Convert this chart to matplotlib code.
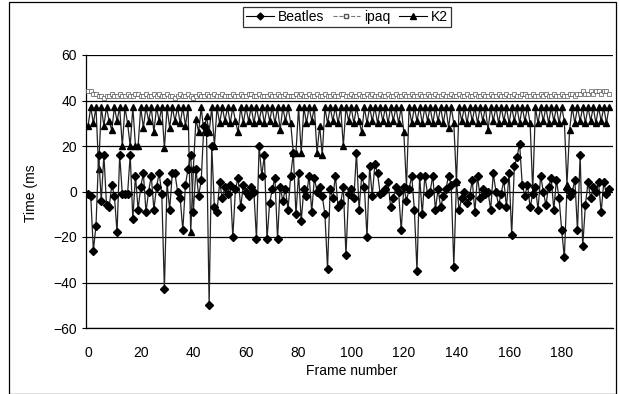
import matplotlib
matplotlib.use("Agg")
import matplotlib.pyplot as plt
from matplotlib.lines import Line2D

plt.rcParams['font.family'] = ['Liberation Sans', 'DejaVu Sans']

beatles = [-1, -2, -26, -15, 16, -4, 16, -6, -7, 3,
           -2, -18, 16, -1, -1, -1, 16, -12, 7, -8,
           2, 8, -9, 0, 7, -8, 2, 8, -1, -43,
           4, -8, 8, 8, 0, -3, -17, 3, 10, 16,
           -9, 10, -2, 5, 29, 26, -50, 20, -7, -9,
           4, -3, 2, -1, 3, -20, 1, 6, -7, 3,
           0, -2, 2, 0, -21, 20, 7, 16, -21, -5,
           1, 6, -21, 2, -4, 1, -8, 7, 17, -10,
           8, -13, 1, -2, 7, -9, 6, 0, 2, -2,
           -10, -34, 1, -3, 7, -7, -5, 2, -28, -1,
           1, -3, 17, -8, 7, 2, -20, 11, -2, 12,
           8, -1, 0, 1, 4, -7, -3, 2, 0, -17,
           2, -4, 1, 7, -8, -35, 7, -10, 7, -1,
           0, 7, -8, 1, -7, -2, 1, 7, 3, -33,
           4, -8, -3, 0, -5, -2, 5, -9, 7, -3,
           1, -1, 0, -8, 8, 0, -6, -1, 5, -7,
           8, -19, 11, 15, 21, 3, -2, 3, -7, -1,
           2, -8, 7, 0, -6, 2, 6, -8, 5, -3,
           -17, -29, 1, -2, 0, 5, -17, 16, -24, -6,
           4, -3, 2, 0, 4, -9, 4, -1, 1]

ipaq = [44, 44, 43, 43, 42, 42, 41, 42, 42, 43,
        42, 42, 43, 42, 42, 43, 42, 42, 43, 43,
        42, 42, 43, 42, 42, 43, 42, 43, 42, 42,
        43, 42, 42, 41, 42, 43, 42, 42, 43, 42,
        41, 42, 43, 42, 42, 43, 42, 42, 43, 42,
        42, 43, 42, 42, 42, 43, 42, 42, 43, 42,
        42, 43, 43, 42, 42, 43, 42, 42, 42, 43,
        42, 42, 43, 42, 42, 43, 42, 42, 42, 43,
        42, 43, 42, 42, 43, 42, 42, 43, 42, 42,
        43, 42, 42, 43, 42, 42, 43, 43, 42, 42,
        43, 42, 42, 43, 42, 42, 43, 42, 43, 42,
        42, 43, 42, 42, 43, 42, 42, 43, 42, 42,
        43, 42, 42, 43, 42, 42, 43, 42, 42, 43,
        42, 42, 43, 42, 42, 43, 42, 42, 43, 42,
        42, 43, 42, 42, 43, 42, 42, 43, 42, 42,
        43, 42, 42, 43, 42, 42, 43, 42, 42, 43,
        42, 42, 43, 42, 42, 43, 43, 42, 42, 43,
        42, 42, 43, 42, 43, 42, 42, 43, 42, 42,
        43, 42, 42, 43, 43, 42, 43, 43, 44, 43,
        43, 44, 43, 44, 44, 43, 44, 44, 43]

k2 = [29, 37, 30, 37, 10, 37, 29, 37, 31, 27,
      37, 31, 37, 20, 37, 30, 20, 37, 20, 20,
      37, 28, 37, 31, 37, 26, 37, 31, 37, 19,
      37, 28, 37, 31, 37, 30, 37, 29, 37, -18,
      10, 32, 26, 37, 26, 33, 26, 37, 20, 37,
      30, 37, 31, 37, 30, 37, 31, 26, 37, 30,
      37, 31, 37, 30, 37, 31, 37, 30, 37, 31,
      37, 30, 37, 27, 37, 31, 37, 30, 17, 17,
      37, 17, 37, 30, 37, 31, 37, 17, 29, 16,
      37, 30, 37, 31, 37, 30, 37, 20, 37, 31,
      37, 30, 37, 31, 26, 37, 30, 37, 31, 37,
      30, 37, 31, 37, 30, 37, 31, 37, 30, 37,
      26, 2, 37, 30, 37, 31, 37, 30, 37, 31,
      37, 30, 37, 31, 37, 30, 37, 28, 37, 30,
      4, 37, 31, 37, 30, 37, 31, 37, 30, 37,
      31, 37, 27, 37, 31, 37, 30, 37, 31, 37,
      30, 37, 31, 37, 30, 37, 31, 37, 30, 0,
      37, 30, 37, 31, 37, 30, 37, 31, 37, 30,
      37, 31, 3, 27, 37, 30, 37, 31, 37, 30,
      37, 31, 37, 30, 37, 31, 37, 30, 37]

frames = list(range(len(beatles)))
x_ticks = [0, 20, 40, 60, 80, 100, 120, 140, 160, 180]
y_ticks = [-60, -40, -20, 0, 20, 40, 60]

fig = plt.figure(figsize=(6.19, 3.94), dpi=100)
W, H = 619, 394
ax = fig.add_axes([86 / W, 1 - 328 / H, (613 - 86) / W, (328 - 55) / H])

ax.plot(frames, ipaq, color='#666666', lw=0.8, marker='s', ms=2.5,
        mfc='white', mec='#555555', mew=0.5, zorder=3)
ax.plot(frames, k2, color='#222222', lw=0.9, marker='^', ms=4.5,
        mfc='black', mec='black', zorder=4)
ax.plot(frames, beatles, color='#222222', lw=0.9, marker='D', ms=3.8,
        mfc='black', mec='black', zorder=5)

ax.set_xlim(-0.8, 199.5)
ax.set_ylim(-60, 60)
ax.set_xticks(x_ticks)
ax.set_yticks(y_ticks)
ax.tick_params(axis='both', labelsize=10, length=3, width=0.8, color='black')
ax.tick_params(axis='x', length=0, pad=13)
ax.set_yticklabels([str(v).replace('-', '\u2212') for v in y_ticks])
for v in y_ticks:
    ax.axhline(v, color='black', lw=0.9, zorder=1)
ax.spines['top'].set_visible(False)
ax.spines['right'].set_visible(False)
ax.spines['left'].set_linewidth(0.9)
ax.spines['bottom'].set_linewidth(0.9)

fig.text(352 / W, 1 - 371 / H, 'Frame number', ha='center', va='center', fontsize=10)
fig.text(31 / W, 1 - 193 / H, 'Time (ms', ha='center', va='center', fontsize=10, rotation=90)

handles = [
    Line2D([], [], color='black', lw=0.8, marker='D', ms=3.5, mfc='black'),
    Line2D([], [], color='#777777', lw=0.8, ls='--', marker='s', ms=3, mfc='white', mec='#555555'),
    Line2D([], [], color='black', lw=0.8, marker='^', ms=4.5, mfc='black'),
]
leg = fig.legend(handles, ['Beatles', 'ipaq', 'K2'], loc='center',
                 bbox_to_anchor=(347 / W, 1 - 17 / H), ncol=3, fontsize=10,
                 frameon=True, fancybox=False, edgecolor='black',
                 handlelength=2.0, handletextpad=0.3, columnspacing=0.6,
                 borderpad=0.2, borderaxespad=0)
leg.get_frame().set_linewidth(0.9)

# chart-area border
fig.add_artist(plt.Rectangle((9 / W, 0), (616 - 9) / W, 1 - 2 / H,
                             transform=fig.transFigure, fill=False,
                             edgecolor='black', lw=0.9))

fig.savefig('out.png', dpi=100)
